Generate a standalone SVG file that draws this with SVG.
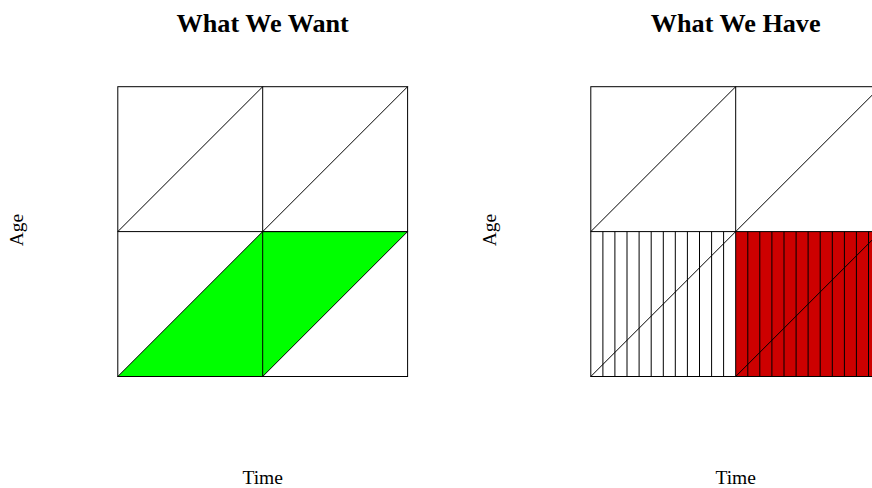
<svg xmlns="http://www.w3.org/2000/svg" width="872" height="488" viewBox="0 0 872 488">
<style>
.ln{stroke:#000;stroke-width:1;fill:none}
.title{font-family:"Liberation Serif",serif;font-weight:bold;font-size:26.2px;text-anchor:middle}
.lab{font-family:"Liberation Serif",serif;font-size:19.5px;text-anchor:middle}
</style>
<rect width="872" height="488" fill="#fff"/>
<g id="left-panel">
<text class="title" x="262.7" y="31.5">What We Want</text>
<text class="lab" x="262.7" y="483.5">Time</text>
<text class="lab" transform="translate(23,230) rotate(-90)">Age</text>
<polygon id="wanted" points="117.8,376.5 262.7,231.6 407.6,231.6 262.7,376.5" fill="#00FF00" stroke="#000" stroke-width="1"/>
<g id="left-grid" class="ln">
<rect x="117.8" y="86.7" width="289.8" height="289.8"/>
<line x1="262.7" y1="86.7" x2="262.7" y2="376.5"/>
<line x1="117.8" y1="231.6" x2="407.6" y2="231.6"/>
<line x1="117.8" y1="231.6" x2="262.7" y2="86.7"/>
<line x1="262.7" y1="231.6" x2="407.6" y2="86.7"/>
</g>
</g>
<g id="right-panel">
<text class="title" x="735.7" y="31.5">What We Have</text>
<text class="lab" x="735.7" y="483.5">Time</text>
<text class="lab" transform="translate(496,230) rotate(-90)">Age</text>
<rect id="have" x="735.7" y="231.6" width="144.9" height="144.9" fill="#CD0000"/>
<g id="hatch" class="ln">
<line x1="602.9" y1="231.6" x2="602.9" y2="376.5"/>
<line x1="614.9" y1="231.6" x2="614.9" y2="376.5"/>
<line x1="627.0" y1="231.6" x2="627.0" y2="376.5"/>
<line x1="639.1" y1="231.6" x2="639.1" y2="376.5"/>
<line x1="651.2" y1="231.6" x2="651.2" y2="376.5"/>
<line x1="663.3" y1="231.6" x2="663.3" y2="376.5"/>
<line x1="675.3" y1="231.6" x2="675.3" y2="376.5"/>
<line x1="687.4" y1="231.6" x2="687.4" y2="376.5"/>
<line x1="699.5" y1="231.6" x2="699.5" y2="376.5"/>
<line x1="711.6" y1="231.6" x2="711.6" y2="376.5"/>
<line x1="723.6" y1="231.6" x2="723.6" y2="376.5"/>
<line x1="747.8" y1="231.6" x2="747.8" y2="376.5"/>
<line x1="759.8" y1="231.6" x2="759.8" y2="376.5"/>
<line x1="771.9" y1="231.6" x2="771.9" y2="376.5"/>
<line x1="784.0" y1="231.6" x2="784.0" y2="376.5"/>
<line x1="796.1" y1="231.6" x2="796.1" y2="376.5"/>
<line x1="808.1" y1="231.6" x2="808.1" y2="376.5"/>
<line x1="820.2" y1="231.6" x2="820.2" y2="376.5"/>
<line x1="832.3" y1="231.6" x2="832.3" y2="376.5"/>
<line x1="844.4" y1="231.6" x2="844.4" y2="376.5"/>
<line x1="856.4" y1="231.6" x2="856.4" y2="376.5"/>
<line x1="868.5" y1="231.6" x2="868.5" y2="376.5"/>
</g>
<g id="right-grid" class="ln">
<rect x="590.8" y="86.7" width="289.8" height="289.8"/>
<line x1="735.7" y1="86.7" x2="735.7" y2="376.5"/>
<line x1="590.8" y1="231.6" x2="880.6" y2="231.6"/>
<line x1="590.8" y1="231.6" x2="735.7" y2="86.7"/>
<line x1="735.7" y1="231.6" x2="880.6" y2="86.7"/>
<line x1="590.8" y1="376.5" x2="735.7" y2="231.6"/>
<line x1="735.7" y1="376.5" x2="880.6" y2="231.6"/>
</g>
</g>
</svg>
